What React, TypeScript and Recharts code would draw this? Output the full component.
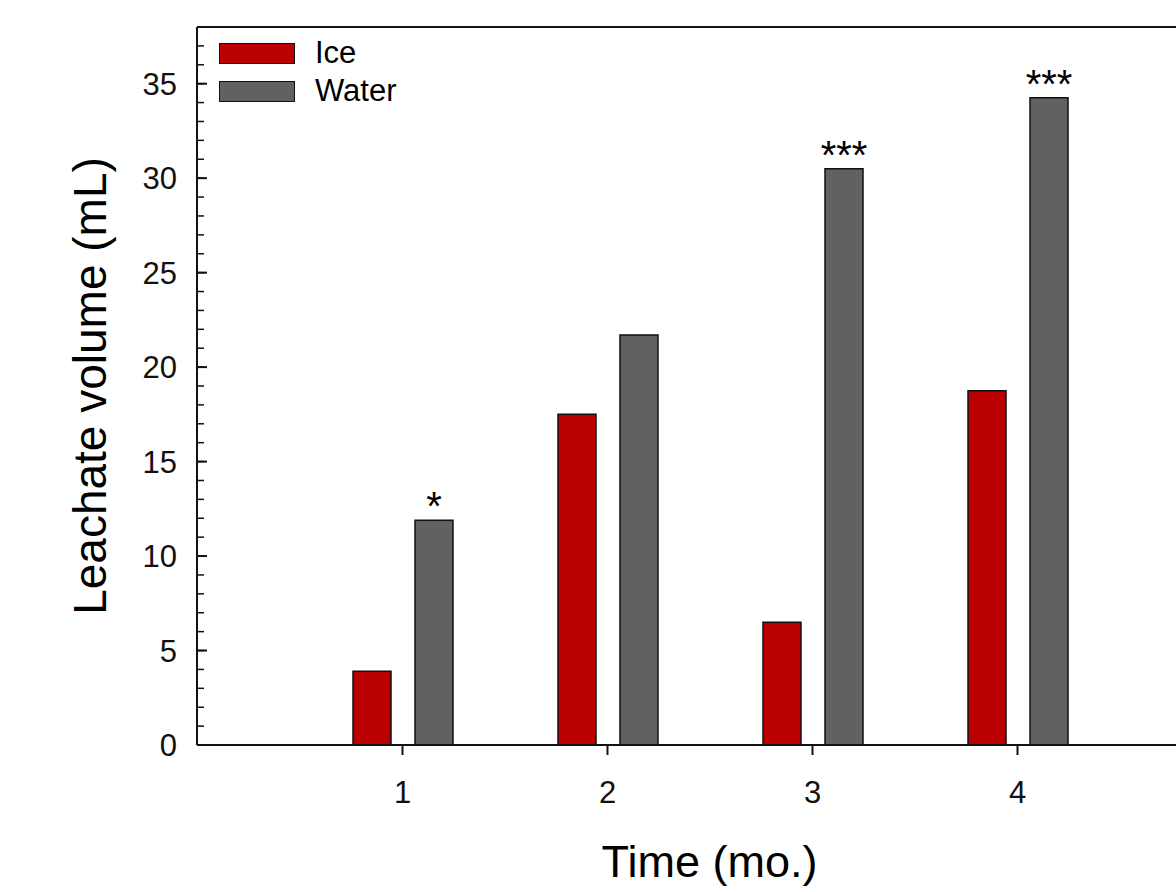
import React from "react";
import { BarChart, Bar, XAxis, YAxis, Legend, LabelList, ReferenceLine } from "recharts";

const months = ["1", "2", "3", "4"];
const iceVolume = [3.9, 17.5, 6.5, 18.75];
const waterVolume = [11.9, 21.7, 30.5, 34.25];
const significance = ["*", "", "***", "***"];
const majorTicks = [0, 5, 10, 15, 20, 25, 30, 35];
const minorTicks = [0, 1, 2, 3, 4, 5, 6, 7, 8, 9, 10, 11, 12, 13, 14, 15, 16, 17, 18, 19, 20, 21, 22, 23, 24, 25, 26, 27, 28, 29, 30, 31, 32, 33, 34, 35, 36, 37];

const ICE = "#bb0000";
const WATER = "#616161";
const FONT = '"Liberation Sans", Arial, sans-serif';

const data = months.map((m, i) => ({
  month: m,
  ice: iceVolume[i],
  water: waterVolume[i],
  sig: significance[i],
}));

const series = [
  { name: "Ice", color: ICE },
  { name: "Water", color: WATER },
];

// inward tick marks: the tick's x sits at axis + tickSize when mirrored with no margin
const inwardTick = (len: number, w: number) => (props: any) => (
  <line x1={props.x - len} y1={props.y} x2={props.x} y2={props.y} stroke="#111" strokeWidth={w} />
);

function LegendBox() {
  return (
    <div style={{ fontFamily: FONT, fontSize: 31, color: "#000" }}>
      {series.map(s => (
        <div key={s.name} style={{ display: "flex", alignItems: "center", height: 38 }}>
          <span style={{ display: "inline-block", width: 74, height: 19, background: s.color, border: "1.5px solid #111", marginRight: 20 }} />
          <span style={{ lineHeight: "38px" }}>{s.name}</span>
        </div>
      ))}
    </div>
  );
}

export default function App() {
  return (
    <div style={{ position: "absolute", left: 0, top: 0, width: 1176, height: 892, overflow: "hidden", background: "#fff" }}>
      <BarChart
        width={1240}
        height={892}
        data={data}
        margin={{ top: 27, right: 18, left: 0, bottom: 0 }}
        barSize={38}
        barGap={24}
        style={{ fontFamily: FONT }}
      >
        <XAxis
          dataKey="month"
          height={147}
          padding={{ left: 103, right: 102 }}
          axisLine={{ stroke: "#111", strokeWidth: 2 }}
          tickLine={{ stroke: "#111", strokeWidth: 2 }}
          tickSize={10}
          tickMargin={26}
          tick={{ fill: "#111", fontSize: 31 }}
          label={{ value: "Time (mo.)", position: "insideBottom", offset: 15, fill: "#000", fontSize: 45 }}
        />
        <YAxis
          yAxisId="main"
          type="number"
          domain={[0, 38]}
          ticks={majorTicks}
          interval={0}
          allowDataOverflow
          width={197}
          axisLine={{ stroke: "#111", strokeWidth: 2 }}
          tickLine={false}
          tickSize={0}
          tickMargin={20}
          tick={{ fill: "#111", fontSize: 31 }}
          label={{ value: "Leachate volume (mL)", angle: -90, position: "insideLeft", offset: 90, fill: "#000", fontSize: 46, style: { textAnchor: "middle" } }}
        />
        <YAxis
          yAxisId="major"
          type="number"
          domain={[0, 38]}
          ticks={majorTicks}
          interval={0}
          allowDataOverflow
          mirror
          width={1}
          axisLine={false}
          tickLine={false}
          tickSize={10}
          tickMargin={0}
          tick={inwardTick(10, 2)}
        />
        <YAxis
          yAxisId="minor"
          type="number"
          domain={[0, 38]}
          ticks={minorTicks}
          interval={0}
          allowDataOverflow
          mirror
          width={1}
          axisLine={false}
          tickLine={false}
          tickSize={6}
          tickMargin={0}
          tick={inwardTick(6, 1.5)}
        />
        <ReferenceLine yAxisId="main" y={38} stroke="#111" strokeWidth={2} />
        <Legend
          layout="horizontal"
          verticalAlign="middle"
          align="center"
          content={() => <LegendBox />}
          wrapperStyle={{ left: 219, top: 34, width: "auto" }}
        />
        <Bar yAxisId="main" dataKey="ice" name="Ice" fill={ICE} stroke="#111" strokeWidth={1.5} isAnimationActive={false} />
        <Bar yAxisId="main" dataKey="water" name="Water" fill={WATER} stroke="#111" strokeWidth={1.5} isAnimationActive={false}>
          <LabelList dataKey="sig" position="top" offset={0} fill="#000" fontSize={40} />
        </Bar>
      </BarChart>
    </div>
  );
}
